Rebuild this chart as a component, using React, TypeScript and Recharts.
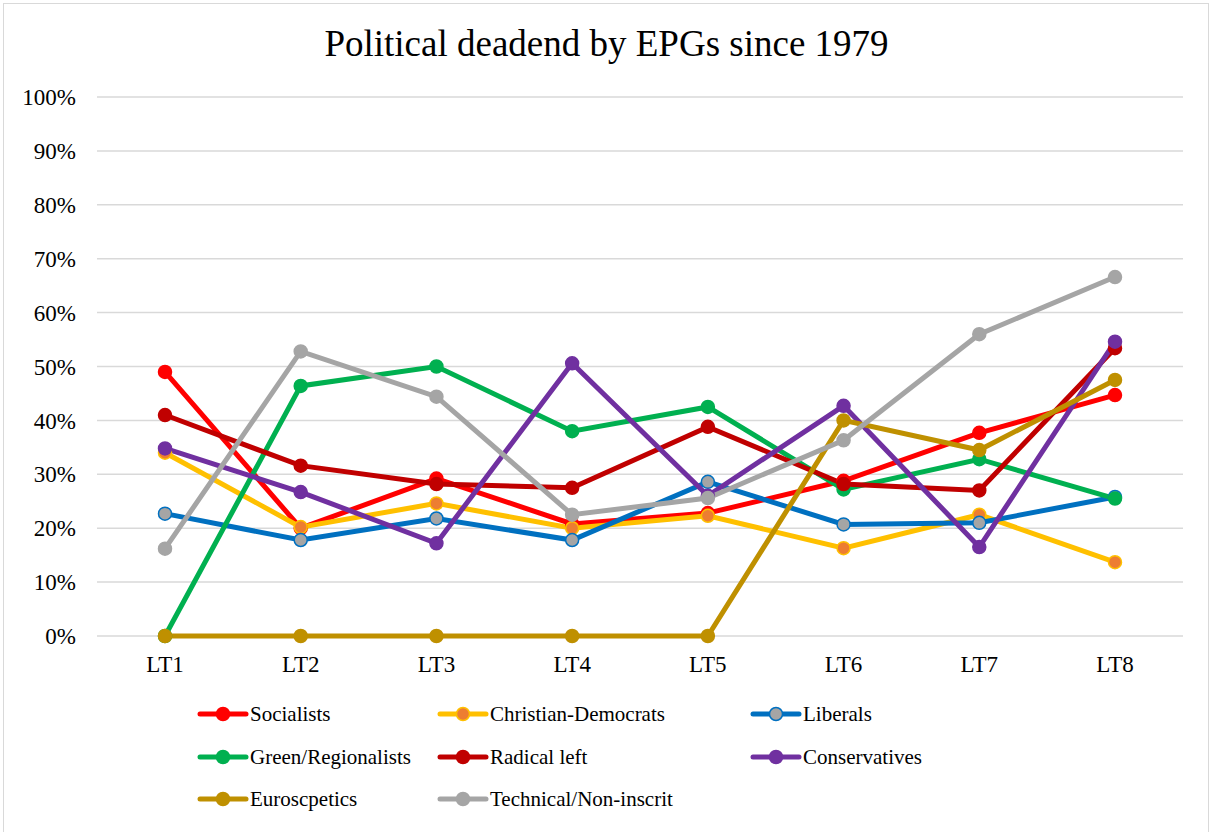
import React from 'react';
import { LineChart, Line, XAxis, YAxis, CartesianGrid } from 'recharts';

const terms = ['LT1', 'LT2', 'LT3', 'LT4', 'LT5', 'LT6', 'LT7', 'LT8'];

const socialists = [49, 20, 29.2, 20.8, 22.8, 28.8, 37.7, 44.7];
const christianDemocrats = [34, 20.2, 24.6, 20, 22.3, 16.3, 22.5, 13.7];
const liberals = [22.7, 17.8, 21.8, 17.8, 28.6, 20.7, 21, 25.8];
const greens = [0, 46.4, 50, 38, 42.5, 27.2, 32.8, 25.5];
const radicalLeft = [41, 31.6, 28.2, 27.5, 38.8, 28.2, 27, 53.4];
const conservatives = [34.8, 26.7, 17.2, 50.6, 26, 42.7, 16.5, 54.6];
const eurosceptics = [0, 0, 0, 0, 0, 40, 34.5, 47.5];
const technical = [16.2, 52.8, 44.4, 22.5, 25.6, 36.3, 56, 66.6];

const yTicks = [0, 10, 20, 30, 40, 50, 60, 70, 80, 90, 100];

interface SeriesMeta {
    key: string;
    label: string;
    values: number[];
    color: string;
    dotFill: string;
}

const series: SeriesMeta[] = [
    { key: 'soc', label: 'Socialists', values: socialists, color: '#FF0000', dotFill: '#FF0000' },
    { key: 'cd', label: 'Christian-Democrats', values: christianDemocrats, color: '#FFC000', dotFill: '#ED7D31' },
    { key: 'lib', label: 'Liberals', values: liberals, color: '#0070C0', dotFill: '#A5A5A5' },
    { key: 'green', label: 'Green/Regionalists', values: greens, color: '#00B050', dotFill: '#00B050' },
    { key: 'rad', label: 'Radical left', values: radicalLeft, color: '#C00000', dotFill: '#C00000' },
    { key: 'cons', label: 'Conservatives', values: conservatives, color: '#7030A0', dotFill: '#7030A0' },
    { key: 'euro', label: 'Euroscpetics', values: eurosceptics, color: '#BF9000', dotFill: '#BF9000' },
    { key: 'tech', label: 'Technical/Non-inscrit', values: technical, color: '#A5A5A5', dotFill: '#A5A5A5' },
];

const data = terms.map((t, i) => {
    const row: Record<string, string | number> = { term: t };
    series.forEach(s => { row[s.key] = s.values[i]; });
    return row;
});

const font = '"Liberation Serif", "Times New Roman", serif';

// legend laid out in 3 columns like the Excel original
const LegendBox = () => {
    const colX = [197, 437, 750];
    const rowY = [714, 757, 799];
    return (
        <>
            {series.map((s, i) => {
                const col = i % 3;
                const row = Math.floor(i / 3);
                return (
                    <div
                        key={s.key}
                        style={{
                            position: 'absolute',
                            left: colX[col],
                            top: rowY[row] - 14,
                            height: 28,
                            display: 'flex',
                            alignItems: 'center',
                            fontFamily: font,
                            fontSize: 21,
                            color: '#000',
                            whiteSpace: 'nowrap',
                        }}
                    >
                        <svg width={52} height={20} style={{ marginRight: 1 }}>
                            <line x1={3} y1={10} x2={49} y2={10} stroke={s.color} strokeWidth={5} strokeLinecap="round" />
                            <circle cx={26} cy={10} r={6.5} fill={s.dotFill} stroke={s.color} strokeWidth={1.5} />
                        </svg>
                        <span>{s.label}</span>
                    </div>
                );
            })}
        </>
    );
};

const App: React.FC = () => {
    return (
        <div style={{ position: 'absolute', left: 0, top: 0, width: 1213, height: 832, background: '#fff', overflow: 'hidden' }}>
            <div
                style={{
                    position: 'absolute',
                    left: 3,
                    top: 3,
                    width: 1206,
                    height: 840,
                    border: '1.5px solid #D9D9D9',
                    boxSizing: 'border-box',
                }}
            />
            <div
                style={{
                    position: 'absolute',
                    left: 0,
                    top: 20,
                    width: 1213,
                    textAlign: 'center',
                    fontFamily: font,
                    fontSize: 37,
                    color: '#000',
                    lineHeight: '48px',
                }}
            >
                Political deadend by EPGs since 1979
            </div>
            <div style={{ position: 'absolute', left: 0, top: 0 }}>
                <LineChart width={1213} height={832} data={data} margin={{ top: 97, right: 30, bottom: 156, left: 0 }}>
                    <CartesianGrid vertical={false} stroke="#D9D9D9" strokeWidth={1.5} />
                    <XAxis
                        dataKey="term"
                        axisLine={false}
                        tickLine={false}
                        tickSize={10}
                        tickMargin={10}
                        height={40}
                        padding={{ left: 68, right: 68 }}
                        tick={{ fill: '#000', fontSize: 23, fontFamily: font }}
                    />
                    <YAxis
                        width={97}
                        domain={[0, 100]}
                        ticks={yTicks}
                        tickFormatter={(v: number) => `${v}%`}
                        axisLine={false}
                        tickLine={false}
                        tickSize={10}
                        tickMargin={11}
                        tick={{ fill: '#000', fontSize: 23, fontFamily: font }}
                    />
                    {series.map(s => (
                        <Line
                            key={s.key}
                            type="linear"
                            dataKey={s.key}
                            name={s.label}
                            stroke={s.color}
                            strokeWidth={5}
                            dot={{ r: 6.5, fill: s.dotFill, stroke: s.color, strokeWidth: 1.5 }}
                            isAnimationActive={false}
                        />
                    ))}
                </LineChart>
            </div>
            <LegendBox />
        </div>
    );
};

export default App;
